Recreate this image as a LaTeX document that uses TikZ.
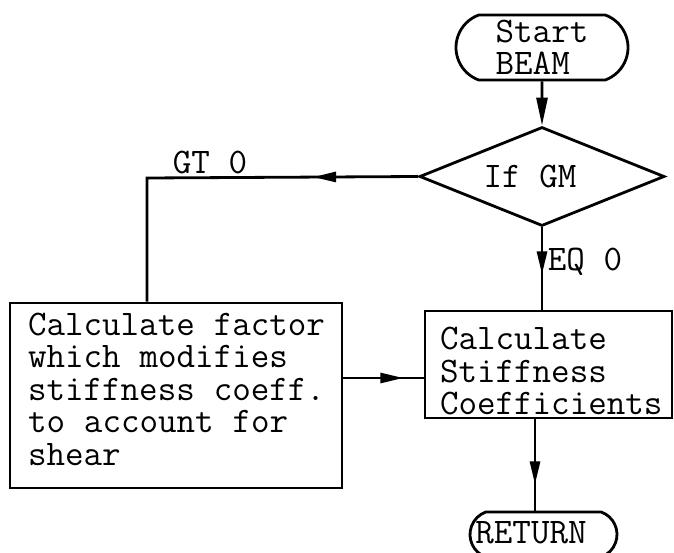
\documentclass[tikz,border=0pt]{standalone}
\usepackage{fontspec}
\usetikzlibrary{arrows.meta,shapes.geometric,shapes.misc,decorations.markings}
\newcommand\chartfont{\ttfamily\fontsize{36}{32.5}\selectfont}
\newcommand\fixspace{\spaceskip 18.9pt\relax\xspaceskip 18.9pt\relax}
\begin{document}
\begin{tikzpicture}[x=1pt,y=-1pt,
  every node/.style={font=\chartfont, inner sep=0pt},
  line/.style={line width=2.8pt},
  term/.style={draw, line width=2.8pt, rounded rectangle, rounded rectangle arc length=140},
  procbox/.style={draw, line width=2.8pt, rectangle},
  decbox/.style={draw, line width=2.8pt, diamond, aspect=2.5},
  midarrow/.style={postaction={decorate}, decoration={markings, mark=at position #1 with {\arrow{Triangle[length=23pt,width=10pt]}}}}
]
\useasboundingbox (0,0) rectangle (674,553);

\node[term, minimum width=172pt, minimum height=65pt, align=left] (start) at (542,47.5) {Start\\BEAM};
\node[decbox, minimum width=245pt, minimum height=99pt] (dec) at (542,176.5) {};
\node (dectext) at (530,177) {If GM};

\node[procbox, minimum width=332pt, minimum height=185pt] (factor) at (176,395.5) {};
\node[text width=312pt, align=left] (factortext) at (184,389) {\fixspace Calculate factor\\which modifies\\stiffness coeff.\\to account for\\shear};

\node[procbox, minimum width=247pt, minimum height=107pt] (stiff) at (548.5,364.5) {};
\node[text width=230pt, align=left] (stifftext) at (555,371.5) {Calculate\\Stiffness\\Coefficients};

\node[term, minimum width=147pt, minimum height=45pt] (ret) at (543.5,534.5) {};
\node (rettext) at (531,533) {RETURN};

\node (gtlabel) at (210,163) {GT 0};
\node (eqlabel) at (585,262) {EQ 0};

\coordinate (gt) at (147,178);
\coordinate (arrowy) at (380,378);
\coordinate (downx) at (535,450);

\draw[line, -{Triangle[length=28pt,width=11pt]}] (start) -- (dec);
\draw[line, midarrow=105pt] (dec.west) -- (gt) -- (gt |- factor.north);
\draw[line, midarrow=47pt] (dec.south) -- (dec.south |- stiff.north);
\draw[line, midarrow=60pt] (factor.east |- arrowy) -- (stiff.west |- arrowy);
\draw[line, midarrow=65pt] (stiff.south -| downx) -- (ret.north -| downx);
\end{tikzpicture}
\end{document}
